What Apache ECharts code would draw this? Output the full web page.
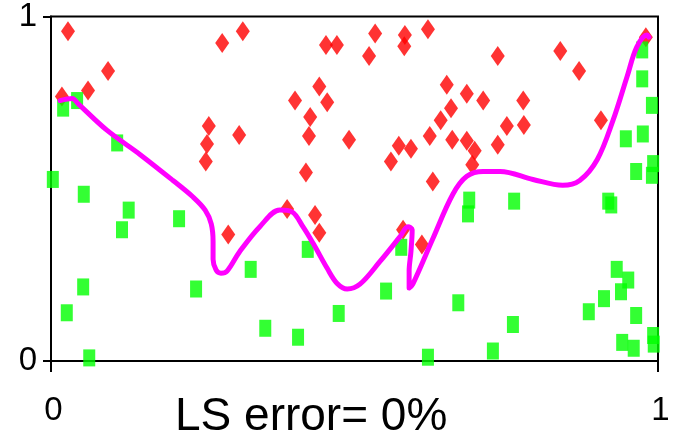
<!DOCTYPE html>
<html>
<head>
<meta charset="utf-8">
<script src="https://cdn.jsdelivr.net/npm/echarts@6/dist/echarts.min.js"></script>
<style>
html,body{margin:0;padding:0;background:#fff;}
#chart{width:677px;height:442px;}
</style>
</head>
<body>
<div id="chart"></div>
<script>
// x-axis and y-axis tick labels
const xTicks = [0, 1];
const yTicks = [0, 1];
const titleText = 'LS error= 0%';

// red diamonds: class A
const redX = [0.028,0.094,0.061,0.018,0.260,0.257,0.255,0.282,0.316,0.310,0.292,0.389,0.420,0.435,0.442,0.580,0.611,0.453,0.471,0.534,0.524,0.583,0.582,0.621,0.442,0.402,0.455,0.427,0.425,0.491,0.573,0.593,0.560,0.624,0.642,0.652,0.659,0.629,0.685,0.712,0.736,0.839,0.870,0.778,0.751,0.779,0.661,0.685,0.698,0.694,0.736,0.906,0.980];
const redY = [0.957,0.842,0.785,0.768,0.682,0.630,0.579,0.923,0.957,0.656,0.367,0.441,0.547,0.424,0.372,0.381,0.338,0.917,0.917,0.951,0.885,0.946,0.914,0.963,0.797,0.756,0.751,0.708,0.653,0.642,0.625,0.616,0.579,0.653,0.699,0.802,0.734,0.521,0.776,0.756,0.885,0.900,0.842,0.756,0.682,0.685,0.642,0.639,0.610,0.570,0.628,0.699,0.940];

// green squares: class B
const greenX = [0.003,0.020,0.043,0.109,0.054,0.128,0.117,0.211,0.026,0.053,0.063,0.239,0.329,0.353,0.407,0.423,0.474,0.552,0.577,0.621,0.671,0.689,0.687,0.728,0.761,0.763,0.886,0.911,0.918,0.923,0.932,0.951,0.939,0.964,0.941,0.960,0.992,0.993,0.974,0.974,0.990,0.947,0.975,0.992,0.964,0.990];
const greenY = [0.527,0.734,0.756,0.633,0.484,0.438,0.381,0.413,0.140,0.215,0.009,0.209,0.266,0.095,0.069,0.324,0.138,0.203,0.330,0.011,0.169,0.467,0.427,0.029,0.106,0.464,0.143,0.181,0.464,0.453,0.266,0.235,0.201,0.132,0.054,0.037,0.074,0.049,0.903,0.819,0.742,0.645,0.659,0.573,0.550,0.539];

// decision boundary curve (magenta)
const curveX = [0.015,0.035,0.044,0.092,0.147,0.201,0.234,0.254,0.264,0.267,0.267,0.272,0.280,0.290,0.311,0.344,0.377,0.397,0.415,0.432,0.455,0.471,0.488,0.509,0.542,0.575,0.588,0.595,0.593,0.590,0.590,0.596,0.629,0.662,0.685,0.712,0.740,0.794,0.843,0.871,0.900,0.926,0.949,0.965,0.982,0.985];
const curveY = [0.756,0.762,0.748,0.670,0.599,0.524,0.476,0.438,0.398,0.347,0.295,0.264,0.255,0.261,0.318,0.390,0.438,0.433,0.390,0.341,0.269,0.226,0.209,0.223,0.289,0.361,0.390,0.381,0.318,0.261,0.212,0.223,0.355,0.484,0.536,0.550,0.550,0.527,0.510,0.524,0.585,0.699,0.825,0.911,0.946,0.940];

const zip = (a, b) => a.map((v, i) => [v, b[i]]);

const chart = echarts.init(document.getElementById('chart'), null, {renderer: 'canvas'});
const font = 'Liberation Sans, Arial, sans-serif';
chart.setOption({
  animation: false,
  backgroundColor: '#ffffff',
  title: {
    text: titleText,
    left: 175,
    top: 394,
    padding: 0,
    textStyle: {fontFamily: font, fontSize: 46, fontWeight: 'normal', color: '#000'}
  },
  grid: {
    left: 51, right: 19, top: 12, bottom: 81,
    show: true, borderColor: '#000', borderWidth: 2, backgroundColor: 'transparent'
  },
  xAxis: {
    type: 'value', min: xTicks[0], max: xTicks[xTicks.length - 1], interval: 1,
    axisLine: {show: true, lineStyle: {color: '#000', width: 2}},
    axisTick: {show: true, length: 11, lineStyle: {color: '#000', width: 2}},
    splitLine: {show: false},
    axisLabel: {fontFamily: font, fontSize: 33, color: '#000', margin: 33,
      formatter: v => String(v), padding: [0, 0, 0, 5]}
  },
  yAxis: {
    type: 'value', min: yTicks[0], max: yTicks[yTicks.length - 1], interval: 1,
    axisLine: {show: true, lineStyle: {color: '#000', width: 2}},
    axisTick: {show: true, length: 8, lineStyle: {color: '#000', width: 2}},
    splitLine: {show: false},
    axisLabel: {fontFamily: font, fontSize: 33, color: '#000', margin: 14,
      formatter: v => String(v), padding: [10, 0, 0, 0]}
  },
  series: [
    {
      type: 'scatter', name: 'A', data: zip(redX, redY),
      symbol: 'diamond', symbolSize: [14, 20],
      itemStyle: {color: '#ff0000'}, z: 2
    },
    {
      type: 'scatter', name: 'B', data: zip(greenX, greenY),
      symbol: 'rect', symbolSize: [12, 17],
      itemStyle: {color: '#00ff00'}, z: 3
    },
    {
      type: 'line', name: 'boundary', data: zip(curveX, curveY),
      smooth: 0.35, showSymbol: false, symbol: 'none',
      lineStyle: {color: '#ff00ff', width: 5, cap: 'round', join: 'round'}, z: 4
    }
  ]
});
</script>
</body>
</html>
